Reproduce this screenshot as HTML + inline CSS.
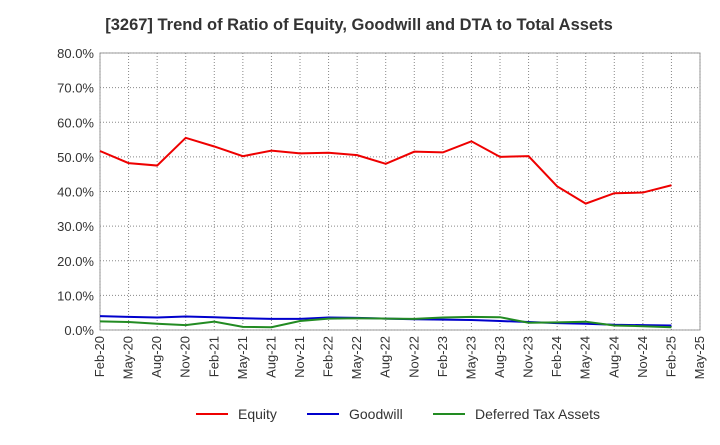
<!DOCTYPE html>
<html><head><meta charset="utf-8"><style>
body{margin:0;background:#fff;font-family:"Liberation Sans",sans-serif}
</style></head><body>
<svg width="720" height="440" viewBox="0 0 720 440" id="svg" font-family="Liberation Sans, sans-serif">
<text x="359" y="30" text-anchor="middle" font-size="16.5" font-weight="bold" fill="#333">[3267]  Trend of Ratio of Equity, Goodwill and DTA to Total Assets</text>
<g id="grid"></g><g id="axes"></g><g id="series"></g>
<g font-size="14" fill="#333">
<line x1="196" y1="414" x2="228" y2="414" stroke="#e00" stroke-width="2"/><text x="238" y="419">Equity</text>
<line x1="307" y1="414" x2="339" y2="414" stroke="#00c" stroke-width="2"/><text x="349" y="419">Goodwill</text>
<line x1="433" y1="414" x2="465" y2="414" stroke="#228b22" stroke-width="2"/><text x="475" y="419">Deferred Tax Assets</text>
</g>
</svg>
<script>
const categories=["Feb-20","May-20","Aug-20","Nov-20","Feb-21","May-21","Aug-21","Nov-21","Feb-22","May-22","Aug-22","Nov-22","Feb-23","May-23","Aug-23","Nov-23","Feb-24","May-24","Aug-24","Nov-24","Feb-25","May-25"];
const equity=[51.7,48.2,47.5,55.5,53,50.2,51.8,51,51.2,50.5,48,51.5,51.3,54.5,50,50.2,41.5,36.5,39.5,39.7,41.8];
const goodwill=[4.0,3.8,3.6,3.9,3.7,3.4,3.2,3.2,3.6,3.5,3.3,3.1,3.0,2.9,2.6,2.3,2.0,1.8,1.5,1.4,1.3];
const dta=[2.5,2.3,1.8,1.4,2.4,0.9,0.8,2.6,3.3,3.4,3.3,3.2,3.6,3.8,3.7,2.1,2.2,2.4,1.3,1.1,0.8];
const yTicks=[0,10,20,30,40,50,60,70,80];
const L=100,R=700,T=53,B=330,NS="http://www.w3.org/2000/svg";
const x=i=>L+i*(R-L)/(categories.length-1);
const y=v=>B-v*(B-T)/80;
function mk(t,a,p){const e=document.createElementNS(NS,t);for(const k in a)e.setAttribute(k,a[k]);p.appendChild(e);return e;}
const g=document.getElementById('grid'),ax=document.getElementById('axes'),s=document.getElementById('series');
mk('rect',{x:L,y:T,width:R-L,height:B-T,fill:'#fff',stroke:'#999'},g);
yTicks.forEach(v=>{const l=mk('line',{x1:L,x2:R,y1:y(v),y2:y(v),stroke:'#888','stroke-dasharray':'1,2'},g);

const t=mk('text',{x:L-6,y:y(v)+5,'text-anchor':'end','font-size':13,fill:'#333'},ax);t.textContent=v.toFixed(1)+'%';
});
categories.forEach((c,i)=>{const l=mk('line',{x1:x(i),x2:x(i),y1:T,y2:B,stroke:'#888','stroke-dasharray':'1,2'},g);

const t=mk('text',{x:0,y:0,'text-anchor':'end','font-size':13,fill:'#333',transform:`translate(${x(i)+4},${B+6}) rotate(-90)`},ax);t.textContent=c;
});
[[equity,'#e00','equity-line'],[goodwill,'#00c','goodwill-line'],[dta,'#228b22','dta-line']].forEach(([d,c,n])=>{
const p=mk('polyline',{points:d.map((v,i)=>x(i)+','+y(v)).join(' '),fill:'none',stroke:c,'stroke-width':2},s);
});
</script>
</body></html>
